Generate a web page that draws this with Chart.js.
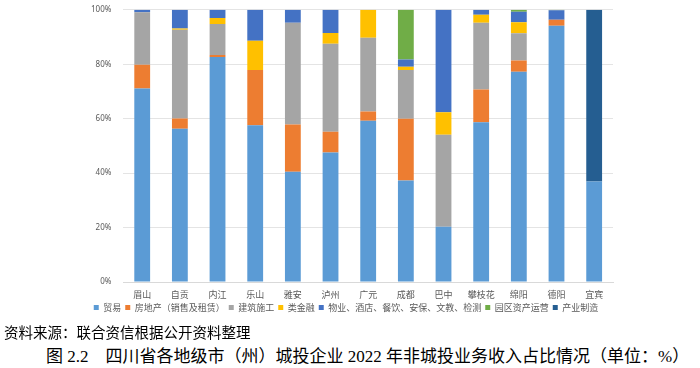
<!DOCTYPE html>
<html>
<head>
<meta charset="utf-8">
<script src="https://cdn.jsdelivr.net/npm/chart.js@4"></script>
<style>
    body { margin: 0; width: 700px; height: 368px; background: #fff; overflow: hidden; }
    #wrap { position: absolute; left: 0; top: -7px; width: 700px; height: 329px; }
    .source { position: absolute; left: 4px; top: 321px; font: 14.5px "Noto Sans CJK SC", sans-serif; color: #000; }
    .title { position: absolute; left: 46px; top: 342px; font: 17px "Liberation Serif", "Noto Sans CJK SC", serif; color: #000; white-space: nowrap; }
</style>
</head>
<body>
<div id="wrap"><canvas id="chart"></canvas></div>
<div class="source">资料来源：联合资信根据公开资料整理</div>
<div class="title">图 2.2&nbsp;&nbsp;&nbsp;&nbsp;四川省各地级市（州）城投企业 2022 年非城投业务收入占比情况（单位：%）</div>

<script>
// Villes et parts de revenus (%)
const cities = ['眉山', '自贡', '内江', '乐山', '雅安', '泸州', '广元', '成都', '巴中', '攀枝花', '绵阳', '德阳', '宜宾'];

const trade         = [71.1, 56.3, 82.7, 57.6, 40.5, 47.6, 59.2, 37.3, 20.3, 58.7, 77.2, 94.1, 36.9];
const realEstate    = [8.7, 3.8, 0.7, 20.3, 17.4, 7.6, 3.4, 22.7, 0, 12.0, 4.2, 2.2, 0];
const construction  = [19.3, 32.6, 11.4, 0, 37.3, 32.3, 27.1, 17.9, 33.8, 24.5, 10.0, 0, 0];
const finance       = [0, 0.4, 2.2, 10.7, 0, 4.0, 10.3, 1.2, 8.3, 3.0, 4.0, 0, 0];
const services      = [0.9, 6.9, 3.0, 11.4, 4.8, 8.5, 0, 2.6, 37.6, 1.8, 3.9, 3.5, 0];
const parkOps       = [0, 0, 0, 0, 0, 0, 0, 18.3, 0, 0, 0.7, 0.2, 0];
const manufacturing = [0, 0, 0, 0, 0, 0, 0, 0, 0, 0, 0, 0, 63.1];

const yTicks = [0, 20, 40, 60, 80, 100];

const series = [
    { label: '贸易', data: trade, color: '#5B9BD5' },
    { label: '房地产（销售及租赁）', data: realEstate, color: '#ED7D31' },
    { label: '建筑施工', data: construction, color: '#A5A5A5' },
    { label: '类金融', data: finance, color: '#FFC000' },
    { label: '物业、酒店、餐饮、安保、文教、检测', data: services, color: '#4472C4' },
    { label: '园区资产运营', data: parkOps, color: '#70AD47' },
    { label: '产业制造', data: manufacturing, color: '#255E91' }
];

const datasets = series.map(s => ({
    label: s.label,
    data: s.data,
    backgroundColor: s.color,
    borderWidth: 0,
    barPercentage: 0.84,
    categoryPercentage: 0.5
}));

new Chart(document.getElementById('chart'), {
    type: 'bar',
    data: { labels: cities, datasets: datasets },
    options: {
        responsive: true,
        maintainAspectRatio: false,
        animation: false,
        layout: { padding: { left: 79, right: 87, top: 3, bottom: 0 } },
        plugins: {
            tooltip: { enabled: false },
            legend: {
                position: 'bottom',
                labels: {
                    boxWidth: 5,
                    boxHeight: 5,
                    padding: 4,
                    color: '#595959',
                    font: { size: 9, family: '"Noto Sans CJK SC", sans-serif' }
                }
            }
        },
        scales: {
            x: {
                stacked: true,
                grid: { display: false },
                border: { color: '#D9D9D9' },
                ticks: { color: '#595959', font: { size: 9, family: '"Noto Sans CJK SC", sans-serif', lineHeight: 1 }, padding: 0 }
            },
            y: {
                stacked: true,
                min: 0,
                max: 100,
                afterBuildTicks: axis => { axis.ticks = yTicks.map(v => ({ value: v })); },
                grid: { color: '#E4E4E4', drawTicks: false },
                border: { display: false },
                ticks: {
                    color: '#595959',
                    padding: 12,
                    font: { size: 8, family: '"Noto Sans", sans-serif' },
                    callback: v => v + '%'
                }
            }
        }
    }
});
</script>
</body>
</html>
